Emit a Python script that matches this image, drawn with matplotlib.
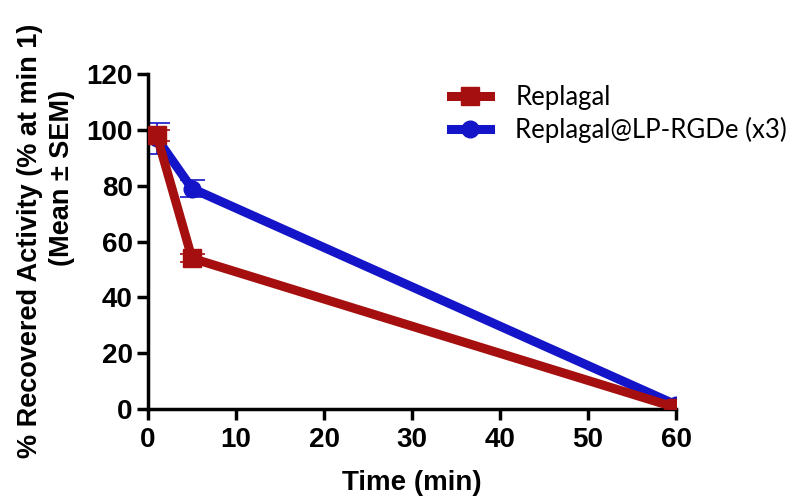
import matplotlib
matplotlib.use('Agg')
import matplotlib.pyplot as plt

time_min = [1, 5, 60]
replagal = [98, 54, 0.5]
replagal_sem = [2, 1.5, 0.5]
rgde = [97, 79, 1.5]
rgde_sem = [5.5, 3.2, 0.5]
xticks = [0, 10, 20, 30, 40, 50, 60]
yticks = [0, 20, 40, 60, 80, 100, 120]

fig = plt.figure(figsize=(8, 4.97), dpi=100)
ax = fig.add_axes([0.185, 0.177, 0.66, 0.674])

red = '#a50f0f'
blue = '#1414c8'

eb1 = ax.errorbar(time_min, replagal, yerr=replagal_sem, color=red, lw=6.5, marker='s', ms=13,
                  capsize=9, elinewidth=1.2, capthick=1.2, zorder=3)
eb2 = ax.errorbar(time_min, rgde, yerr=rgde_sem, color=blue, lw=6.5, marker='o', ms=12,
                  capsize=9, elinewidth=1.2, capthick=1.2, zorder=2)

ax.set_xlim(0, 60)
ax.set_ylim(0, 120)
ax.set_xticks(xticks)
ax.set_yticks(yticks)
for s in ['top', 'right']:
    ax.spines[s].set_visible(False)
for s in ['left', 'bottom']:
    ax.spines[s].set_linewidth(2.5)
ax.tick_params(width=2.5, length=8, labelsize=20, pad=3)
ax.tick_params(axis='x', pad=5)
for lab in ax.get_xticklabels() + ax.get_yticklabels():
    lab.set_fontfamily('Liberation Sans')
    lab.set_fontweight('bold')

ax.set_xlabel('Time (min)', fontfamily='Liberation Sans', fontweight='bold', fontsize=20, labelpad=12)

# two-line y label, second line not centred on the first
fig.text(30 / 800, 1 - 241 / 497, '% Recovered Activity (% at min 1)', rotation=90,
         ha='center', va='center', fontfamily='Liberation Sans', fontweight='bold', fontsize=19.5)
fig.text(62 / 800, 1 - 178 / 497, '(Mean \u00b1 SEM)', rotation=90,
         ha='center', va='center', fontfamily='Liberation Sans', fontweight='bold', fontsize=19.5)

ax.legend([eb1[0], eb2[0]], ['Replagal', 'Replagal@LP-RGDe (x3)'],
          loc='upper left', bbox_to_anchor=(0.53, 1.035), frameon=False,
          prop={'family': 'Lato', 'size': 18.5}, handlelength=1.5,
          labelspacing=0.25, handletextpad=1.0, numpoints=1)

fig.savefig('out.png', dpi=100)
